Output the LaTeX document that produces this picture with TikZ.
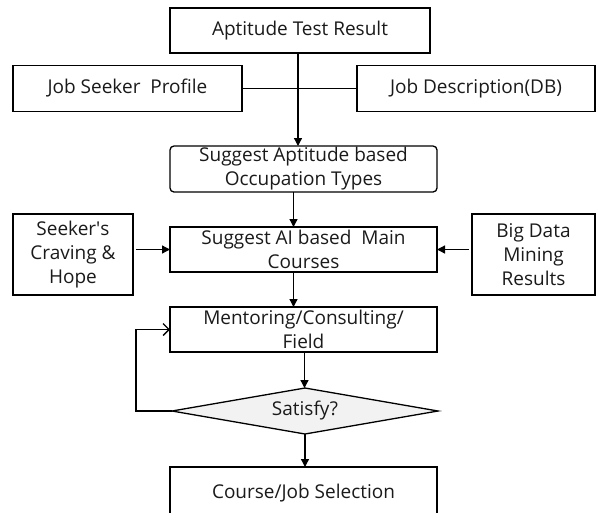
\documentclass[tikz,border=0pt]{standalone}
\usepackage{fontspec}
\setmainfont{Open Sans}
\usepackage{tikz}
\usetikzlibrary{shapes.geometric}
\usetikzlibrary{arrows.meta}
\definecolor{boxtext}{HTML}{1A1A1A}
\definecolor{decfill}{HTML}{F2F2F2}
\tikzstyle{stepbox}=[draw, line width=1.3pt, inner sep=0, outer sep=0, align=center, text=boxtext,
                     font=\fontsize{19}{24}\selectfont]
\tikzstyle{widebox}=[stepbox, minimum width=267, minimum height=45]
\tikzstyle{roundbox}=[widebox, rounded corners=4pt]
\tikzstyle{sidebox}=[stepbox, minimum height=81]
\tikzstyle{decision}=[stepbox, diamond, aspect=5.8, fill=decfill, minimum width=266, minimum height=46]
\tikzstyle{flow}=[line width=1.3pt, -{Triangle[length=8pt, width=8pt]}]
\tikzstyle{backflow}=[line width=1.3pt, -{Straight Barb[length=6pt, width=12pt]}]
\tikzstyle{chart}=[x=1pt, y=-1pt,
                   % keep the page at the size of the reference
                   execute at begin picture={\useasboundingbox (0, 0) rectangle (596, 512);}]

\begin{document}
\begin{tikzpicture}[chart]
        \node[stepbox, minimum width=260, minimum height=45] (aptitude) at (300, 30.5) {Aptitude Test Result};
        \node[stepbox, minimum width=229, minimum height=46] (profile) at (127.5, 88.5) {Job Seeker\ \ Profile};
        \node[stepbox, minimum width=238, minimum height=46] (jobdesc) at (476, 88.5) {Job Description(DB)};
        \node[roundbox, minimum height=46] (occupation) at (303.5, 169) {Suggest Aptitude based\\Occupation Types};
        \node[widebox] (courses) at (303.5, 249.5) {Suggest AI based\ \ Main\\Courses};
        \node[sidebox, minimum width=120] (craving) at (73, 254.5) {Seeker\textquotesingle s\\Craving \&\\Hope};
        \node[sidebox, minimum width=123] (bigdata) at (533.5, 254.5) {Big Data\\Mining\\Results};
        \node[widebox] (mentoring) at (303.5, 329.5) {Mentoring/Consulting/\\Field};
        \node[decision] (satisfy) at (305, 411) {Satisfy?};
        % bottom edge runs off the page, as in the source
        \node[widebox, minimum height=52] (selection) at (303.5, 493) {Course/Job Selection};
        \draw[line width=1.3pt] (profile.east) -- (jobdesc.west);
        \draw[flow] ([xshift=-2]aptitude.south) -- ([xshift=-2]aptitude.south |- occupation.north);
        \draw[flow] ([xshift=-10]occupation.south) -- ([xshift=-10]courses.north);
        \draw[flow] ([xshift=3]craving.east |- courses.west) -- (courses.west);
        \draw[flow] ([xshift=-3]bigdata.west |- courses.east) -- (courses.east);
        \draw[flow] ([xshift=-10]courses.south) -- ([xshift=-10]mentoring.north);
        \draw[flow] ([xshift=1]mentoring.south) -- ([xshift=1]mentoring.south |- satisfy.north);
        \draw[flow] (satisfy.south) -- (satisfy.south |- selection.north);
        \draw[backflow] (satisfy.west) -- ++(-36, 0) |- (mentoring.west);
    \end{tikzpicture}
\end{document}
